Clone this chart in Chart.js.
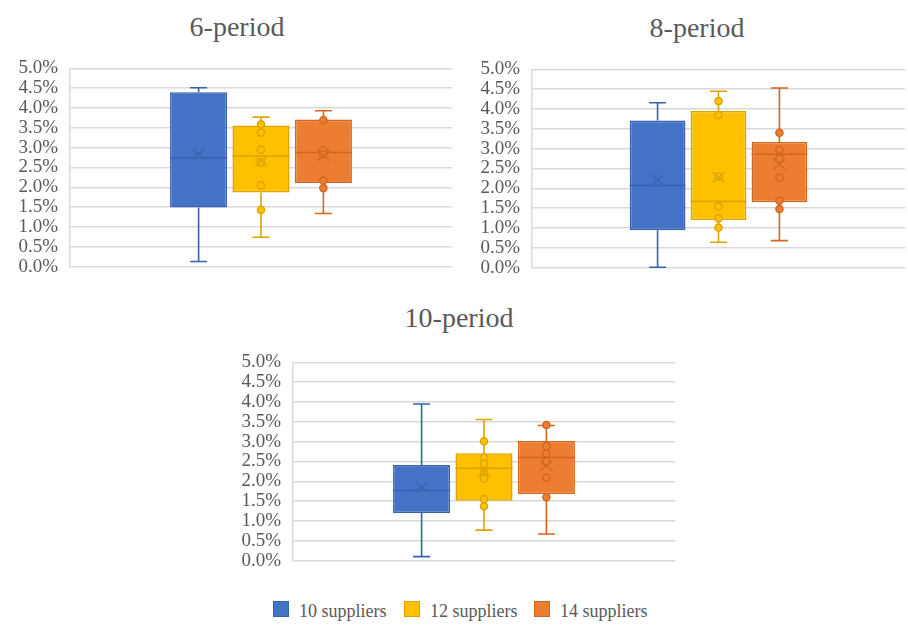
<!DOCTYPE html>
<html>
<head>
<meta charset="utf-8">
<script src="https://cdn.jsdelivr.net/npm/chart.js@4.4.1/dist/chart.umd.min.js"></script>
<style>
  html, body { margin:0; padding:0; background:#ffffff; }
  body { width:908px; height:626px; position:relative; overflow:hidden; font-family:'Liberation Serif','Times New Roman',serif; color:#595959; }
  .box { position:absolute; }
  .title { position:absolute; width:300px; text-align:center; font-size:28px; line-height:28px; color:#595959; }
  .lg-sq { position:absolute; width:15px; height:15px; top:601px; }
  .lg-tx { position:absolute; top:602px; font-size:18px; line-height:18px; color:#595959; white-space:nowrap; }
</style>
</head>
<body>
<div class="title" style="left:87px; top:13px;">6-period</div>
<div class="title" style="left:547px; top:14px;">8-period</div>
<div class="title" style="left:309px; top:304px;">10-period</div>

<div class="box" style="left:0px; top:45px; width:455px; height:245px;"><canvas id="c6"></canvas></div>
<div class="box" style="left:455px; top:46px; width:453px; height:245px;"><canvas id="c8"></canvas></div>
<div class="box" style="left:220px; top:339px; width:458px; height:245px;"><canvas id="c10"></canvas></div>

<div id="legend"></div>

<script>
// ---------- data (values in %) ----------
const seriesNames = ['10 suppliers', '12 suppliers', '14 suppliers'];
const fillColors  = ['#4472C4', '#FFC000', '#ED7D31'];
const darkColors  = ['#3762AE', '#DDA400', '#D2661E'];

const yTickMin = 0, yTickMax = 5, yTickStep = 0.5;

// 6-period
const p6Min    = [0.13, 0.74, 1.34];
const p6Q1     = [1.49, 1.87, 2.11];
const p6Median = [2.74, 2.79, 2.88];
const p6Q3     = [4.40, 3.56, 3.71];
const p6Max    = [4.51, 3.77, 3.93];
const p6Mean   = [2.84, 2.65, 2.80];
const p6Points = [[], [3.59, 3.38, 2.95, 2.63, 2.05, 1.43], [3.70, 2.94, 2.83, 2.17, 1.98]];

// 8-period
const p8Min    = [0.01, 0.64, 0.68];
const p8Q1     = [0.94, 1.20, 1.65];
const p8Median = [2.07, 1.67, 2.86];
const p8Q3     = [3.71, 3.95, 3.17];
const p8Max    = [4.16, 4.45, 4.53];
const p8Mean   = [2.21, 2.28, 2.61];
const p8Points = [[], [4.20, 3.85, 2.30, 1.54, 1.24, 1.01], [3.40, 2.97, 2.75, 2.27, 1.69, 1.48]];

// 10-period
const p10Min    = [0.10, 0.77, 0.67];
const p10Q1     = [1.20, 1.51, 1.68];
const p10Median = [1.77, 2.33, 2.60];
const p10Q3     = [2.41, 2.71, 3.02];
const p10Max    = [3.95, 3.56, 3.41];
const p10Mean   = [1.85, 2.23, 2.39];
const p10Points = [[], [3.01, 2.60, 2.44, 2.20, 2.07, 1.55, 1.37], [3.42, 2.89, 2.70, 2.50, 2.09, 1.60]];

// ---------- chart builder ----------
const FONT = "'Liberation Serif', 'Times New Roman', serif";

function makeChart(id, st, axisWidth, padRight) {
  const boxPlugin = {
    id: 'boxExtras_' + id,
    afterDatasetsDraw(chart) {
      const ctx = chart.ctx;
      const ys = chart.scales.y;
      ctx.save();
      for (let i = 0; i < seriesNames.length; i++) {
        const bar = chart.getDatasetMeta(i).data[0];
        const x = bar.x, w = bar.width;
        const py = v => ys.getPixelForValue(v);
        const cap = 8.5;
        ctx.strokeStyle = darkColors[i];
        ctx.lineWidth = 1.6;
        ctx.beginPath();
        ctx.moveTo(x, py(st.q3[i])); ctx.lineTo(x, py(st.max[i]));
        ctx.moveTo(x - cap, py(st.max[i])); ctx.lineTo(x + cap, py(st.max[i]));
        ctx.moveTo(x, py(st.q1[i])); ctx.lineTo(x, py(st.min[i]));
        ctx.moveTo(x - cap, py(st.min[i])); ctx.lineTo(x + cap, py(st.min[i]));
        ctx.moveTo(x - w / 2, py(st.median[i])); ctx.lineTo(x + w / 2, py(st.median[i]));
        ctx.stroke();
        ctx.lineWidth = 1.4;
        for (const v of st.points[i]) {
          ctx.beginPath();
          ctx.arc(x, py(v), 3.6, 0, Math.PI * 2);
          ctx.fillStyle = fillColors[i];
          ctx.fill();
          ctx.stroke();
        }
        const my = py(st.mean[i]);
        ctx.lineWidth = 1.3;
        ctx.beginPath();
        ctx.moveTo(x - 6, my - 5); ctx.lineTo(x + 6, my + 5);
        ctx.moveTo(x - 6, my + 5); ctx.lineTo(x + 6, my - 5);
        ctx.stroke();
      }
      ctx.restore();
    }
  };

  return new Chart(document.getElementById(id), {
    type: 'bar',
    data: {
      labels: [''],
      datasets: seriesNames.map((name, i) => ({
        label: name,
        data: [[st.q1[i], st.q3[i]]],
        backgroundColor: fillColors[i],
        borderColor: darkColors[i],
        borderWidth: 1.6,
        borderSkipped: false,
        categoryPercentage: 0.49,
        barPercentage: 0.915
      }))
    },
    options: {
      responsive: true,
      maintainAspectRatio: false,
      animation: false,
      layout: { padding: { top: 14, bottom: 16, left: 0, right: padRight } },
      plugins: { legend: { display: false }, tooltip: { enabled: false }, title: { display: false } },
      scales: {
        x: { display: false },
        y: {
          min: yTickMin, max: yTickMax,
          afterFit(scale) { scale.width = axisWidth; },
          ticks: {
            stepSize: yTickStep,
            autoSkip: false,
            padding: 12,
            color: '#595959',
            font: { family: FONT, size: 19 },
            callback: v => Number(v).toFixed(1) + '%'
          },
          grid: { color: '#d9d9d9', lineWidth: 1.5, drawTicks: false },
          border: { display: true, color: '#d9d9d9', width: 1.5 }
        }
      }
    },
    plugins: [boxPlugin]
  });
}

function build() {
  Chart.defaults.font.family = FONT;
  makeChart('c6',  { min: p6Min,  q1: p6Q1,  median: p6Median,  q3: p6Q3,  max: p6Max,  mean: p6Mean,  points: p6Points },  70, 3);
  makeChart('c8',  { min: p8Min,  q1: p8Q1,  median: p8Median,  q3: p8Q3,  max: p8Max,  mean: p8Mean,  points: p8Points },  77, 3);
  makeChart('c10', { min: p10Min, q1: p10Q1, median: p10Median, q3: p10Q3, max: p10Max, mean: p10Mean, points: p10Points }, 73, 3);
}

// ---------- legend ----------
const legendSquareX = [273, 404, 534];
const legend = document.getElementById('legend');
seriesNames.forEach((name, i) => {
  const sq = document.createElement('div');
  sq.className = 'lg-sq';
  sq.style.left = legendSquareX[i] + 'px';
  sq.style.background = fillColors[i];
  sq.style.border = '1px solid ' + darkColors[i];
  sq.style.boxSizing = 'border-box';
  sq.style.width = '16px'; sq.style.height = '16px';
  legend.appendChild(sq);
  const tx = document.createElement('div');
  tx.className = 'lg-tx';
  tx.style.left = (legendSquareX[i] + 26) + 'px';
  tx.textContent = name;
  legend.appendChild(tx);
});

if (document.fonts && document.fonts.load) {
  document.fonts.load("19px 'Liberation Serif'").then(build, build);
} else {
  build();
}
</script>
</body>
</html>
